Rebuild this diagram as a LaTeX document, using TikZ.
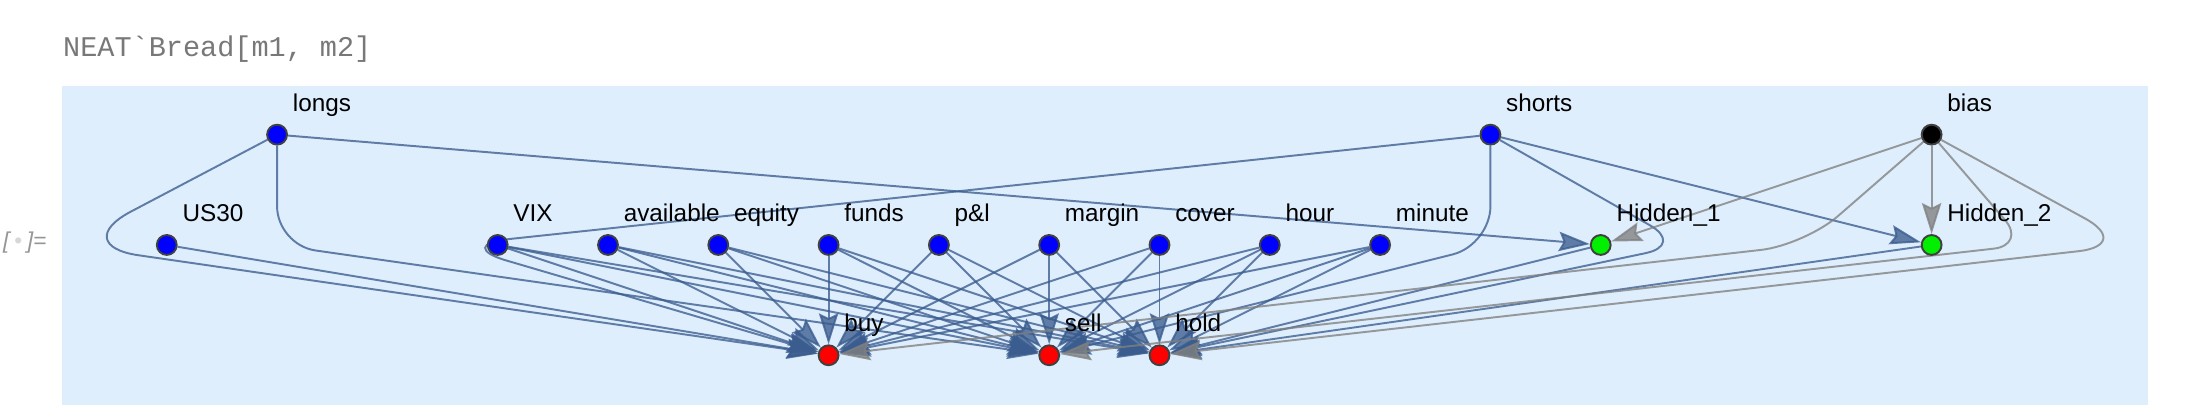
\documentclass[tikz,border=0pt]{standalone}
\usepackage{fontspec}
\setmainfont{Liberation Sans}
\setmonofont{Liberation Mono}
\usetikzlibrary{arrows.meta, calc}

\definecolor{panelblue}{RGB}{222,238,253}
\definecolor{wireblue}{RGB}{58,92,142}
\definecolor{wiregray}{RGB}{128,128,128}
\definecolor{nodeblue}{RGB}{0,0,255}
\definecolor{nodegreen}{RGB}{0,240,0}
\definecolor{nodered}{RGB}{255,0,0}
\definecolor{titlegray}{RGB}{120,120,120}
\definecolor{outgray}{RGB}{150,150,150}
\definecolor{dotgray}{RGB}{215,215,215}

\pgfdeclarelayer{back}
\pgfsetlayers{back,main}

\tikzset{
  vert/.style={circle, draw=black!75, line width=0.5pt, minimum size=0.18cm, inner sep=0pt, fill=#1},
  tag/.style={anchor=base west, inner sep=0pt, font=\fontsize{6.27}{7}\selectfont},
  wire/.style={draw=wireblue, opacity=0.78, line width=0.5pt,
    -{Stealth[length=8pt, width=5pt, inset=1.2pt]}},
  biaswire/.style={wire, draw=wiregray},
}

\begin{document}
\begin{tikzpicture}
  \useasboundingbox (-4.512,-1.568) rectangle (15.415,2.221);

  % vertices
  \foreach \name/\x/\y/\col in {longs/-2/1/nodeblue, shorts/9/1/nodeblue, bias/13/1/black,
      US30/-3/0/nodeblue, VIX/0/0/nodeblue, available/1/0/nodeblue, equity/2/0/nodeblue,
      funds/3/0/nodeblue, pl/4/0/nodeblue, margin/5/0/nodeblue, cover/6/0/nodeblue,
      hour/7/0/nodeblue, minute/8/0/nodeblue, h1/10/0/nodegreen, h2/13/0/nodegreen,
      buy/3/-1/nodered, sell/5/-1/nodered, hold/6/-1/nodered}
    \node[vert=\col] (\name) at (\x,\y) {};

  \foreach \name/\txt in {longs/longs, shorts/shorts, bias/bias, US30/US30, VIX/VIX,
      available/available, equity/equity, funds/funds, pl/p\&l, margin/margin,
      cover/cover, hour/hour, minute/minute, h1/Hidden\_1, h2/Hidden\_2,
      buy/buy, sell/sell, hold/hold}
    \node[tag] (\name-tag) at ($(\name)+(0.136,0.211)$) {\txt};

  \node[anchor=base west, inner sep=0pt, text=titlegray, font=\ttfamily\fontsize{7.36}{8}\selectfont]
    (title) at (-3.946,1.707) {NEAT`Bread[m1, m2]};
  \node[anchor=west, inner sep=0pt, text=outgray, font=\itshape\fontsize{5.9}{7}\selectfont]
    (outtag) at (-4.49,0.02) {[\hspace{1.2pt}{\color{dotgray}\textbullet}\hspace{1.2pt}]=};

  % bends of the long edges
  \coordinate (vLB) at (-3.9,0);
  \coordinate (vLS) at (-2,0);
  \coordinate (vSB) at (-0.4,0);
  \coordinate (vSS) at (9,0);
  \coordinate (vSH) at (10.76,0);
  \coordinate (vBB) at (11.85,0);
  \coordinate (vBS) at (13.86,0);
  \coordinate (vBH) at (14.83,0);

  \begin{pgfonlayer}{back}
    \fill[panelblue] (-3.950,-1.4506) rectangle (14.957,1.4415);

    \foreach \src in {VIX,available,equity,funds,pl,margin,cover,hour,minute}
      \foreach \dst in {buy,sell,hold}
        \draw[wire] (\src) -- (\dst);
    \draw[wire] (US30) -- (buy);
    \draw[wire] (longs) -- (h1);
    \draw[wire] (shorts) -- (h2);
    \draw[wire] (h1) -- (hold);
    \draw[wire] (h2) -- (hold);
    \draw[wire, rounded corners=0.65cm] (longs) -- (vLB) -- (buy);
    \draw[wire, rounded corners=0.35cm] (longs) -- (vLS) -- (sell);
    \draw[wire, rounded corners=0.5cm] (shorts) -- (vSB) -- (buy);
    \draw[wire, rounded corners=0.35cm] (shorts) -- (vSS) -- (sell);
    \draw[wire, rounded corners=0.36cm] (shorts) -- (vSH) -- (hold);

    \draw[biaswire] (bias) -- (h1);
    \draw[biaswire] (bias) -- (h2);
    \draw[biaswire, rounded corners=0.4cm] (bias) -- (vBB) -- (buy);
    \draw[biaswire, rounded corners=0.3cm] (bias) -- (vBS) -- (sell);
    \draw[biaswire, rounded corners=0.5cm] (bias) -- (vBH) -- (hold);
  \end{pgfonlayer}
\end{tikzpicture}
\end{document}
